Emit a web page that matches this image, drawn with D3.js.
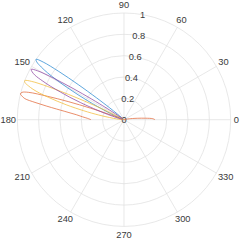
<!DOCTYPE html>
<html>
<head>
<meta charset="utf-8">
<script src="https://cdn.jsdelivr.net/npm/d3@7"></script>
<style>
  html, body { margin: 0; padding: 0; background: #fff; }
  svg text { font-family: "Liberation Sans", Arial, Helvetica, sans-serif; font-size: 9.3px; fill: #3a3a3a; }
</style>
</head>
<body>
<div id="chart"></div>
<script>
// values (theta in degrees, r in 0..1)
const thetaTicks = [0, 30, 60, 90, 120, 150, 180, 210, 240, 270, 300, 330]
const rTicks = [0, 0.2, 0.4, 0.6, 0.8, 1]
const rTickLabels = ['0', '0.2', '0.4', '0.6', '0.8', '1']

const blueTheta = [137.5, 138.5, 139.5, 140.5, 141.5, 142.5, 143.5, 144.5, 145.5, 146.5, 147.5, 148.5, 149.5, 150.5, 151.5, 152.5, 153.5, 155.5, 157.5, 159.5]
const blueR = [0.012, 0.035, 0.085, 0.18, 0.33, 0.54, 0.76, 0.93, 1.0, 0.98, 0.92, 0.84, 0.73, 0.61, 0.49, 0.38, 0.28, 0.14, 0.06, 0.02]

const purpleTheta = [143.5, 144.5, 145.5, 146.5, 147.5, 148.5, 149.5, 150.5, 151.5, 152.5, 153.5, 154.5, 155.5, 156.5, 157.5, 158.5, 159.5, 161.5, 163.5, 165.5, 167.5]
const purpleR = [0.017, 0.044, 0.1, 0.2, 0.36, 0.56, 0.77, 0.93, 0.99, 0.97, 0.93, 0.85, 0.76, 0.65, 0.55, 0.44, 0.34, 0.19, 0.09, 0.04, 0.015]

const yellowTheta = [150.5, 151.5, 152.5, 153.5, 154.5, 155.5, 156.5, 157.5, 158.5, 159.5, 160.5, 161.5, 162.5, 163.5, 164.5, 165.5, 166.5, 168.5, 170.5, 172.5, 174.5, 176.5, 180]
const yellowR = [0.017, 0.044, 0.1, 0.2, 0.36, 0.57, 0.78, 0.94, 1.0, 0.99, 0.95, 0.9, 0.83, 0.74, 0.65, 0.56, 0.47, 0.31, 0.18, 0.1, 0.05, 0.022, 0.004]

const orangeTheta = [0, 2, 4, 6, 8, 10, 14, 20, 30, 150, 156, 158, 159, 160, 161, 162, 163, 164, 165, 166, 167, 168, 169, 170, 171, 172, 173, 174, 176, 178, 180]
const orangeR = [0.29, 0.27, 0.2, 0.13, 0.08, 0.05, 0.02, 0.005, 0, 0, 0, 0.01, 0.05, 0.15, 0.33, 0.55, 0.75, 0.93, 0.99, 1.0, 0.98, 0.95, 0.85, 0.74, 0.64, 0.56, 0.5, 0.45, 0.39, 0.34, 0.31]

const seriesNames = ['blue', 'orange', 'yellow', 'purple']
const seriesTheta = [blueTheta, orangeTheta, yellowTheta, purpleTheta]
const seriesR = [blueR, orangeR, yellowR, purpleR]
const seriesColors = ['#2a8ad2', '#e2683a', '#f2bb38', '#8e45a2']

const width = 241
const height = 240
const cx = 124
const cy = 119.7
const R = 106.7

const svg = d3.select('#chart').append('svg')
  .attr('width', width)
  .attr('height', height)

const g = svg.append('g')
  .attr('transform', `translate(${cx}, ${cy})`)

const r = d3.scaleLinear()
  .domain([0, 1])
  .range([0, R])

const toRad = (d) => d * Math.PI / 180

// grid
g.selectAll('.ring').data(rTicks.filter((d) => d > 0))
  .enter().append('circle')
    .attr('r', (d) => r(d))
    .attr('fill', 'none')
    .attr('stroke', '#dedede')
    .attr('stroke-width', 0.7)

g.selectAll('.spoke').data(thetaTicks)
  .enter().append('line')
    .attr('x1', 0)
    .attr('y1', 0)
    .attr('x2', (d) => r(1) * Math.cos(toRad(d)))
    .attr('y2', (d) => -r(1) * Math.sin(toRad(d)))
    .attr('stroke', '#dedede')
    .attr('stroke-width', 0.7)

// theta labels, pushed outside the ring by their own box
const gap = 3
g.selectAll('.theta-label').data(thetaTicks)
  .enter().append('text')
    .text((d) => d)
    .attr('text-anchor', 'middle')
    .attr('dominant-baseline', 'central')
    .each(function (d) {
      const w = this.getComputedTextLength()
      const a = toRad(d)
      let x = (r(1) + gap) * Math.cos(a) + Math.cos(a) * w / 2
      const y = -(r(1) + gap) * Math.sin(a) - Math.sin(a) * 5.5
      x = Math.max(x, -cx + w / 2 + 0.5)
      d3.select(this).attr('x', x).attr('y', y)
    })

// r labels along 80 degrees
g.selectAll('.r-label').data(rTicks)
  .enter().append('text')
    .text((d, i) => rTickLabels[i])
    .attr('text-anchor', 'middle')
    .attr('dominant-baseline', 'central')
    .attr('x', (d) => r(d) * Math.cos(toRad(80)))
    .attr('y', (d) => -r(d) * Math.sin(toRad(80)))

// data
const line = d3.lineRadial()
  .angle((d) => Math.PI / 2 - toRad(d[0]))
  .radius((d) => r(d[1]))
  .curve(d3.curveCatmullRom)

seriesNames.forEach((name, i) => {
  const pts = seriesTheta[i].map((t, j) => [t, seriesR[i][j]])
  g.append('path')
    .datum(pts)
    .attr('class', `line-${name}`)
    .attr('d', line)
    .attr('fill', 'none')
    .attr('stroke', seriesColors[i])
    .attr('stroke-width', 0.75)
})
</script>
</body>
</html>
